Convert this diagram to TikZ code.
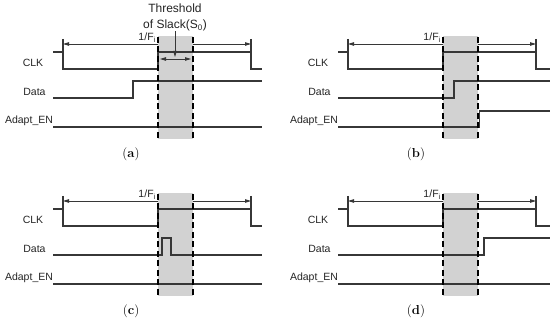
\documentclass[tikz,border=0pt]{standalone}
\usepackage{fontspec}
\setsansfont{Liberation Sans}
\usetikzlibrary{arrows.meta}
\definecolor{shadegray}{RGB}{210,210,210}
\definecolor{sig}{RGB}{55,55,55}
\definecolor{txt}{RGB}{35,35,35}
\newcommand\mypanel[4]{%
  \begin{scope}[shift={(#1,#2)}]
    \coordinate (tl#3) at (63,44);
    \coordinate (tr#3) at (251,44);
    \draw[dim] (tl#3) -- (tr#3);
    \fill[shadegray] (158,36) rectangle (193,139);
    \node[lbl,anchor=base east] (f#3) at (156,41) {1/F\textsubscript{i}};
    \draw[signal] (63,39) -- (63,52);
    \draw[signal] (251,39) -- (251,52);
    \draw[signal] (53,52) -- (63,52) -- (63,69) -- (158,69) -- (158,52) -- (251,52) -- (251,69) -- (#4,69);
    \node[lbl] (clk#3) at (33,63) {CLK};
    \node[lbl] (data#3) at (34.5,92) {Data};
    \node[lbl] (aen#3) at (29,121) {Adapt\_EN};
  \end{scope}}
\begin{document}
\begin{tikzpicture}[x=1pt,y=-1pt,
  signal/.style={draw=sig,line width=1.1pt,line join=miter},
  dashline/.style={draw=black,line width=1.3pt,dash pattern=on 6pt off 3.5pt},
  lbl/.style={font=\sffamily\fontsize{10.5}{12}\selectfont,text=txt,inner sep=0pt},
  caplbl/.style={font=\rmfamily\fontsize{13}{15}\selectfont,inner sep=0pt},
  dim/.style={draw=sig,line width=0.9pt,{Triangle[length=6pt,width=3.5pt]}-{Triangle[length=6pt,width=3.5pt]}},
  tip/.style={draw=sig,line width=0.9pt,-{Triangle[length=6pt,width=3.5pt]}},
]
\useasboundingbox (0,0) rectangle (550,323);
% panel (a)
\mypanel{0}{0}{a}{262}
\draw[signal] (53,98) -- (133,98) -- (133,81) -- (262,81);
\draw[signal] (53,127) -- (262,127);
\draw[dashline] (158,37) -- (158,139);
\draw[dashline] (193,37) -- (193,139);
\node[lbl,font=\sffamily\fontsize{12}{15.5}\selectfont,align=center] (thr) at (175,17.5) {Threshold\\of Slack(S\textsubscript{0})};
\coordinate (thrtip) at (175,57);
\draw[tip] (thr.south) -- (thrtip);
\coordinate (sl) at (160,59);
\coordinate (sr) at (191,59);
\draw[dim] (sl) -- (sr);
\node[caplbl] (capa) at (131,154) {(\textbf{a})};
% panel (b)
\mypanel{285}{0}{b}{265}
\begin{scope}[shift={(285,0)}]
\draw[signal] (53,98) -- (169,98) -- (169,81) -- (265,81);
\draw[signal] (53,127) -- (194.5,127) -- (194.5,111) -- (265,111);
\draw[dashline] (158,37) -- (158,139);
\draw[dashline] (193,37) -- (193,139);
\node[caplbl] (capb) at (131,154) {(\textbf{b})};
\end{scope}
% panel (c)
\mypanel{0}{157}{c}{262}
\begin{scope}[shift={(0,157)}]
\draw[signal] (53,98) -- (162,98) -- (162,81) -- (171,81) -- (171,98) -- (262,98);
\draw[signal] (53,127) -- (262,127);
\draw[dashline] (158,37) -- (158,139);
\draw[dashline] (193,37) -- (193,139);
\node[caplbl] (capc) at (131,154) {(\textbf{c})};
\end{scope}
% panel (d)
\mypanel{285}{157}{d}{265}
\begin{scope}[shift={(285,157)}]
\draw[signal] (53,98) -- (199,98) -- (199,81) -- (265,81);
\draw[signal] (53,127) -- (265,127);
\draw[dashline] (158,37) -- (158,139);
\draw[dashline] (193,37) -- (193,139);
\node[caplbl] (capd) at (131,154) {(\textbf{d})};
\end{scope}
\end{tikzpicture}
\end{document}
